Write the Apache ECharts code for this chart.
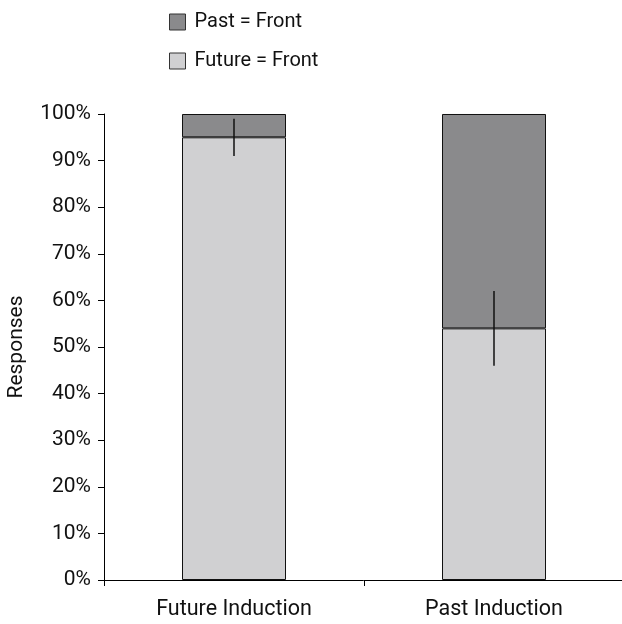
<!DOCTYPE html>
<html><head><meta charset="utf-8">
<script src="https://cdn.jsdelivr.net/npm/echarts@6/dist/echarts.min.js"></script>
<style>html,body{margin:0;padding:0;background:#fff}#c{width:622px;height:624px}</style>
</head><body><div id="c"></div>
<script>
const categories = ['Future Induction', 'Past Induction'];
const futureFront = [95, 54];
const pastFront = [5, 46];
const errLow = [91, 46];
const errHigh = [99, 62];
const yTicks = [0, 10, 20, 30, 40, 50, 60, 70, 80, 90, 100];

const FONT = 'Roboto, "Liberation Sans", sans-serif';
const chart = echarts.init(document.getElementById('c'));
chart.setOption({
  animation: false,
  textStyle: { fontFamily: FONT },
  legend: {
    orient: 'vertical', left: 164, top: 7, itemGap: 19,
    itemWidth: 16, itemHeight: 16,
    data: ['Past = Front', 'Future = Front'],
    textStyle: { fontFamily: FONT, fontSize: 20, color: '#111', padding: [0, 0, 0, 4] },
    icon: 'rect',
    itemStyle: { borderColor: '#333', borderWidth: 1 }
  },
  grid: { left: 104, top: 114, width: 520, height: 466, outerBoundsMode: 'none', containLabel: false },
  xAxis: {
    type: 'category', data: categories,
    axisLine: { lineStyle: { color: '#000', width: 1 } },
    axisTick: { show: true, length: 6, lineStyle: { color: '#000' } },
    axisLabel: { fontFamily: FONT, fontSize: 21.5, color: '#111', margin: 19 }
  },
  yAxis: {
    type: 'value', min: yTicks[0], max: yTicks[yTicks.length - 1], interval: 10,
    name: 'Responses', nameLocation: 'middle', nameGap: 77, nameRotate: 90,
    nameTextStyle: { fontFamily: FONT, fontSize: 21, color: '#111' },
    axisLine: { show: true, lineStyle: { color: '#000', width: 1 } },
    axisTick: { show: true, length: 6, lineStyle: { color: '#000' } },
    axisLabel: { fontFamily: FONT, fontSize: 21, color: '#111', margin: 13, formatter: '{value}%' },
    splitLine: { show: false }
  },
  series: [
    {
      name: 'Future = Front', type: 'bar', stack: 's', data: futureFront, barWidth: '40%',
      itemStyle: { color: '#d0d0d2', borderColor: '#111', borderWidth: 1 }
    },
    {
      name: 'Past = Front', type: 'bar', stack: 's', data: pastFront, barWidth: '40%',
      itemStyle: { color: '#8a8a8c', borderColor: '#111', borderWidth: 1 }
    },
    {
      type: 'custom', z: 10,
      data: categories.map((c, i) => [i, errLow[i], errHigh[i]]),
      renderItem: function (params, api) {
        const a = api.coord([api.value(0), api.value(1)]);
        const b = api.coord([api.value(0), api.value(2)]);
        return { type: 'line', shape: { x1: a[0], y1: a[1], x2: b[0], y2: b[1] },
          style: { stroke: '#111', lineWidth: 1.5 } };
      }
    }
  ]
});
</script></body></html>
